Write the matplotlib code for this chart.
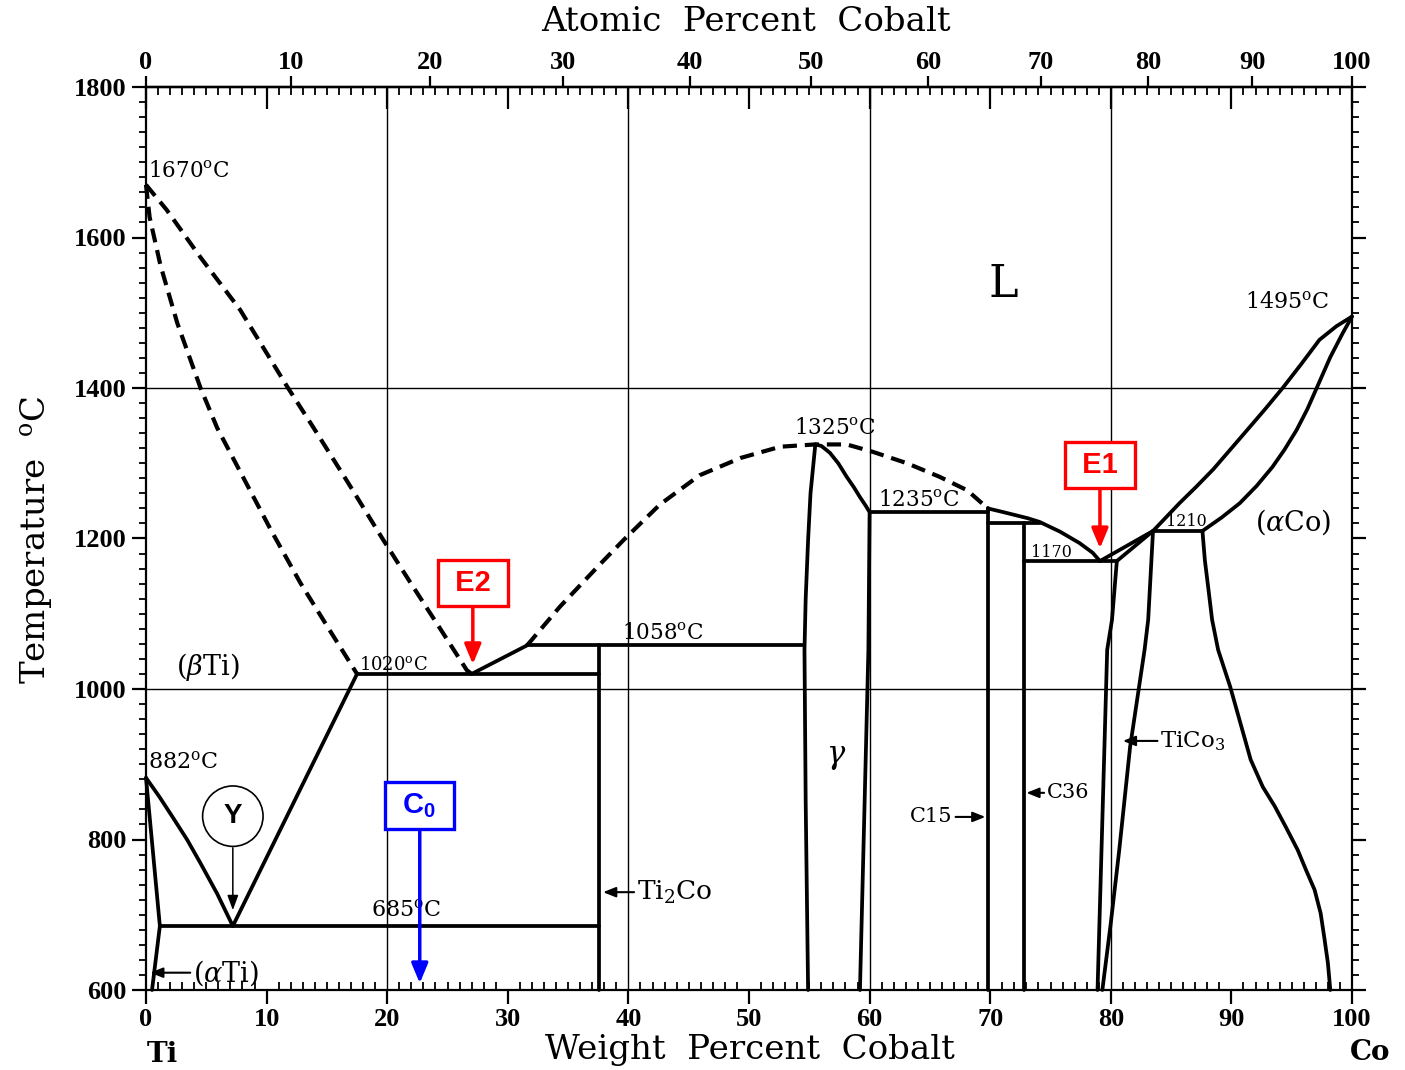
import numpy as np
import matplotlib
matplotlib.use('Agg')
import matplotlib.pyplot as plt

plt.rcParams['font.family'] = 'DejaVu Serif'
plt.rcParams['mathtext.fontset'] = 'custom'
plt.rcParams['mathtext.rm'] = 'DejaVu Serif'
plt.rcParams['mathtext.it'] = 'DejaVu Serif:italic'
plt.rcParams['mathtext.bf'] = 'DejaVu Serif:bold'
plt.rcParams['mathtext.sf'] = 'Liberation Sans:bold'

# --- phase boundaries (wt% Co, deg C) ---
# dashed liquidus / solidus
liq_ti_wt = [0, 1.7, 4.5, 7.8, 11.7, 13.9, 16.8, 19.6, 21.9, 24.4, 26.6, 27.0]
liq_ti_T = [1670, 1637, 1574, 1504, 1402, 1347, 1273, 1200, 1142, 1080, 1025, 1020]
sol_ti_wt = [0, 0.3, 1.2, 2.6, 4.5, 5.9, 8.0, 10.4, 12.8, 15.0, 17.5]
sol_ti_T = [1670, 1627, 1563, 1486, 1401, 1347, 1283, 1210, 1141, 1084, 1020]
liq_mid_wt = [31.6, 34.3, 37.6, 39.6, 42.6, 45.9, 49.3, 52.6, 55.5, 58.1, 60.3, 63.1, 65.8, 68.1, 69.8]
liq_mid_T = [1058, 1109, 1165, 1198, 1245, 1284, 1307, 1322, 1325, 1325, 1315, 1300, 1282, 1264, 1240]

# solid lines
liq_e2_wt = [27.0, 31.6]
liq_e2_T = [1020, 1058]
liq_e1_wt = [69.8, 71.1, 73.1, 74.1, 75.8, 77.4, 78.5, 79.1]
liq_e1_T = [1240, 1235, 1227, 1222, 1209, 1194, 1181, 1170]
liq_co_wt = [79.1, 83.5, 85.7, 87.1, 88.5, 89.9, 91.3, 92.8, 94.3, 95.8, 97.3, 98.7, 100]
liq_co_T = [1170, 1210, 1247, 1269, 1292, 1318, 1344, 1372, 1401, 1432, 1464, 1482, 1495]
sol_co_wt = [87.6, 89.2, 90.7, 92.1, 93.4, 94.4, 95.4, 96.3, 97.1, 98.2, 99.2, 100]
sol_co_T = [1210, 1228, 1247, 1270, 1295, 1318, 1344, 1372, 1401, 1441, 1472, 1495]
solv_co_wt = [87.6, 87.8, 88.1, 88.4, 88.9, 89.9, 90.6, 91.6, 92.6, 93.6, 94.5, 95.5, 96.2,
              96.9, 97.4, 97.7, 98.0, 98.2]
solv_co_T = [1210, 1171, 1132, 1092, 1052, 1003, 963, 906, 870, 844, 817, 786, 759,
             733, 702, 670, 636, 600]

alpha_wt = [0, 1.15, 0.5]
alpha_T = [882, 685, 600]
beta_wt = [0, 1.1, 2.2, 3.4, 4.5, 5.9, 7.2, 17.5]
beta_T = [882, 857, 830, 800, 769, 728, 685, 1020]

gam_l_wt = [55.5, 55.1, 54.9, 54.7, 54.6, 54.7, 54.9]
gam_l_T = [1325, 1260, 1198, 1120, 1052, 850, 600]
gam_r_wt = [55.5, 56.0, 56.7, 57.4, 58.1, 58.7, 59.2, 59.7, 60.0, 59.9, 59.2]
gam_r_T = [1325, 1323, 1314, 1300, 1282, 1268, 1255, 1243, 1235, 1052, 600]

tico3_l_wt = [83.5, 80.5, 80.1, 79.7, 78.9]
tico3_l_T = [1210, 1170, 1092, 1052, 600]
tico3_r_wt = [83.5, 83.1, 82.8, 81.6, 80.7, 80.0, 79.3]
tico3_r_T = [1210, 1092, 1052, 923, 786, 689, 600]

# compounds (vertical lines): wt, top T
comp_wt = [37.6, 69.8, 72.8]
comp_top = [1058, 1240, 1220]

# invariant horizontals: T, wt from, wt to
inv_T = [685, 1020, 1058, 1235, 1220, 1170, 1210]
inv_from = [1.15, 17.5, 31.6, 60.0, 69.8, 72.8, 83.5]
inv_to = [37.6, 37.6, 54.6, 69.8, 74.1, 80.5, 87.6]

grid_wt = [20, 40, 60, 80]
grid_T = [1000, 1400]

M_CO, M_TI = 58.933, 47.867


def wt_to_at(w):
    w = np.asarray(w, float)
    a = w / M_CO
    b = (100 - w) / M_TI
    return 100 * a / (a + b)


def at_to_wt(a):
    a = np.asarray(a, float)
    x = a * M_CO
    y = (100 - a) * M_TI
    return 100 * x / (x + y)


fig = plt.figure(figsize=(14.05, 10.7), dpi=100)
ax = fig.add_axes([146 / 1405, 80 / 1070, 1206 / 1405, 903 / 1070])
ax.set_xlim(0, 100)
ax.set_ylim(600, 1800)

for g in grid_wt:
    ax.axvline(g, color='black', lw=1.0, zorder=1)
for g in grid_T:
    ax.axhline(g, color='black', lw=1.0, zorder=1)

LW = 2.7
dash = (0, (3.4, 1.9))


def line(x, y, dashed=False):
    ax.plot(x, y, color='black', lw=LW + (0.3 if dashed else 0), ls=dash if dashed else '-',
            solid_capstyle='round', solid_joinstyle='round', dash_capstyle='butt',
            clip_on=False, zorder=3)


line(liq_ti_wt, liq_ti_T, True)
line(sol_ti_wt, sol_ti_T, True)
line(liq_mid_wt, liq_mid_T, True)
line(liq_e2_wt, liq_e2_T)
line(liq_e1_wt, liq_e1_T)
line(liq_co_wt, liq_co_T)
line(sol_co_wt, sol_co_T)
line(solv_co_wt, solv_co_T)
line(alpha_wt, alpha_T)
line(beta_wt, beta_T)
line(gam_l_wt, gam_l_T)
line(gam_r_wt, gam_r_T)
line(tico3_l_wt, tico3_l_T)
line(tico3_r_wt, tico3_r_T)
for w, t in zip(comp_wt, comp_top):
    line([w, w], [t, 600])
for t, a, b in zip(inv_T, inv_from, inv_to):
    line([a, b], [t, t])

# ---- axes, ticks ----
for s in ax.spines.values():
    s.set_linewidth(1.6)
ax.set_xticks(range(0, 101, 10))
ax.set_xticks(range(0, 101, 1), minor=True)
ax.set_yticks(range(600, 1801, 200))
ax.set_yticks(range(600, 1801, 20), minor=True)
ax.tick_params(axis='both', which='major', labelsize=19, labelfontfamily='Liberation Serif')
ax.tick_params(axis='x', which='major', direction='out', length=10, width=1.6, pad=3)
ax.tick_params(axis='x', which='minor', direction='in', length=6, width=1.3)
ax.tick_params(axis='y', which='major', direction='out', length=10, width=1.6, pad=4,
               right=True)
ax.tick_params(axis='y', which='minor', direction='out', length=5, width=1.3, right=True)

top_wt = ax.secondary_xaxis('top')
top_wt.set_xticks(range(0, 101, 10))
top_wt.set_xticks(range(0, 101, 1), minor=True)
top_wt.tick_params(which='major', direction='in', length=16, width=1.6, labeltop=False)
top_wt.tick_params(which='minor', direction='in', length=6, width=1.3)
top_wt.spines['top'].set_linewidth(1.6)

top_at = ax.secondary_xaxis('top', functions=(wt_to_at, at_to_wt))
top_at.set_xticks(range(0, 101, 10))
top_at.set_xticks([], minor=True)
top_at.tick_params(which='major', direction='out', length=8, width=1.6, pad=1,
                   labelsize=19, labelfontfamily='Liberation Serif')
top_at.spines['top'].set_linewidth(1.6)

fig.text(0.531, 1 - 22 / 1070, 'Atomic  Percent  Cobalt', ha='center', va='center', fontsize=24.5)
fig.text(0.534, 1 - 1050 / 1070, 'Weight  Percent  Cobalt', ha='center', va='center', fontsize=24.5)
fig.text(0.026, 1 - 540 / 1070, r'Temperature  $^{\rm o}$C', ha='center', va='center',
         rotation=90, fontsize=24.5)
fig.text(162 / 1405, 1 - 1055 / 1070, 'Ti', ha='center', va='center', fontsize=20, weight='bold')
fig.text(1370 / 1405, 1 - 1053 / 1070, 'Co', ha='center', va='center', fontsize=20, weight='bold')

# ---- labels on the diagram ----
deg = r'$^{\rm o}$C'
ax.text(0.15, 1689, '1670' + deg, ha='left', va='center', fontsize=15.5)
ax.text(94.6, 1513, '1495' + deg, ha='center', va='center', fontsize=16)
ax.text(57.1, 1347, '1325' + deg, ha='center', va='center', fontsize=15.5)
ax.text(64.1, 1251, '1235' + deg, ha='center', va='center', fontsize=15.5)
ax.text(75.1, 1182, '1170', ha='center', va='center', fontsize=11.5)
ax.text(86.3, 1222, '1210', ha='center', va='center', fontsize=11.5)
ax.text(42.9, 1074, '1058' + deg, ha='center', va='center', fontsize=15.5)
ax.text(20.5, 1032, '1020' + deg, ha='center', va='center', fontsize=13)
ax.text(0.15, 902, '882' + deg, ha='left', va='center', fontsize=16)
ax.text(21.6, 706, '685' + deg, ha='center', va='center', fontsize=16)
ax.text(5.1, 1029, r'($\beta$Ti)', ha='center', va='center', fontsize=19.5)
ax.text(95.1, 1222, r'($\alpha$Co)', ha='center', va='center', fontsize=19.5)
ax.text(71.1, 1537, 'L', ha='center', va='center', fontsize=32)
ax.text(57.2, 910, r'$\gamma$', ha='center', va='center', fontsize=22)

arr_k = dict(arrowstyle='-|>,head_length=0.5,head_width=0.2', color='black', lw=1.5,
             mutation_scale=15, shrinkA=0, shrinkB=0)
ax.annotate(r'($\alpha$Ti)', xy=(0.35, 623), xytext=(3.9, 623), ha='left', va='center',
            fontsize=19.5, arrowprops=arr_k)
ax.annotate(r'Ti$_2$Co', xy=(37.9, 730), xytext=(40.7, 730), ha='left', va='center',
            fontsize=19, arrowprops=arr_k)
ax.annotate('C15', xy=(69.6, 830), xytext=(66.9, 830), ha='right', va='center',
            fontsize=15, arrowprops=arr_k)
ax.annotate('C36', xy=(73.0, 862), xytext=(74.7, 862), ha='left', va='center',
            fontsize=15, arrowprops=arr_k)
ax.annotate(r'TiCo$_3$', xy=(81.0, 931), xytext=(84.1, 931), ha='left', va='center',
            fontsize=16.5, arrowprops=arr_k)


# ---- highlighted markers ----
def boxed(txt, x, y, color, size=21):
    ax.text(x, y, txt, ha='center', va='center', color=color, fontsize=size,
            family='Liberation Sans', weight='bold',
            bbox=dict(boxstyle='square,pad=0.3', fc='white', ec=color, lw=2.4), zorder=5)


def down_arrow(x, y0, y1, color, lw=2.5, scale=20):
    ax.annotate('', xy=(x, y1), xytext=(x, y0),
                arrowprops=dict(arrowstyle='-|>,head_length=0.6,head_width=0.25', color=color,
                                lw=lw, mutation_scale=scale, shrinkA=0, shrinkB=0), zorder=5)


boxed(' E2 ', 27.1, 1141, 'red')
down_arrow(27.1, 1109, 1033, 'red')
boxed(' E1 ', 79.1, 1298, 'red')
down_arrow(79.1, 1264, 1187, 'red')
boxed(r' $\mathsf{C_0}$  ', 22.7, 845, 'blue')
down_arrow(22.7, 813, 609, 'blue')

ax.text(7.2, 831, 'Y', ha='center', va='center', fontsize=20, family='Liberation Sans',
        weight='bold', bbox=dict(boxstyle='circle,pad=0.62', fc='white', ec='black', lw=1.2),
        zorder=5)
ax.annotate('', xy=(7.2, 706), xytext=(7.2, 789),
            arrowprops=dict(arrowstyle='-|>,head_length=0.6,head_width=0.22', color='black',
                            lw=1.1, mutation_scale=15, shrinkA=0, shrinkB=0), zorder=5)

fig.canvas.draw()
for lab in ax.get_xticklabels() + ax.get_yticklabels() + top_at.get_xticklabels():
    lab.set_fontweight('bold')

fig.savefig('out.png', dpi=100)
